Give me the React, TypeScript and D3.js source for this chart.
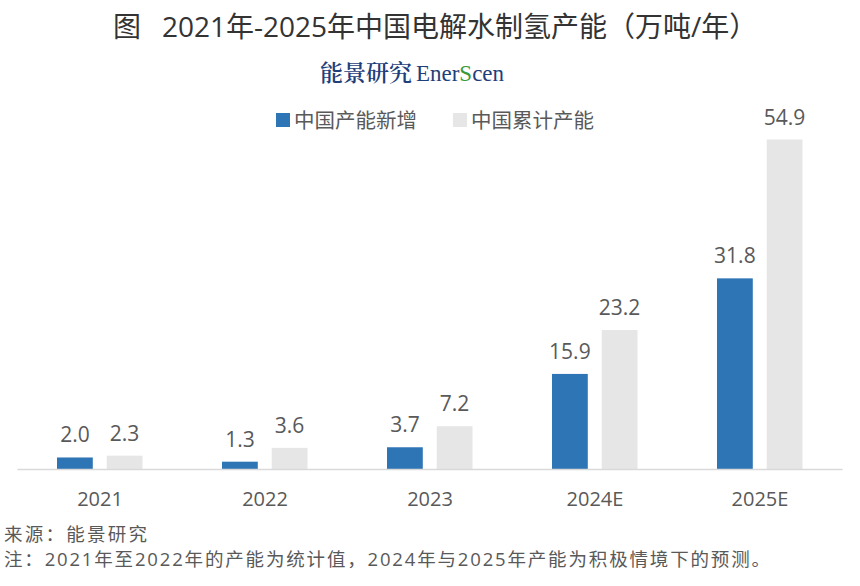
import React from "react";
import * as d3 from "d3";

const categories = ["2021", "2022", "2023", "2024E", "2025E"];
const newCapacity = [2.0, 1.3, 3.7, 15.9, 31.8];
const totalCapacity = [2.3, 3.6, 7.2, 23.2, 54.9];
const seriesNames = ["中国产能新增", "中国累计产能"];
const seriesColors = ["#2E75B6", "#E7E6E6"];

const W = 860;
const H = 586;
const FONT = "'Open Sans', 'Noto Sans CJK SC', sans-serif";
const TEXT = "#595959";

export default function App() {
  const x = d3.scaleBand<string>().domain(categories).range([17.5, 842.5]);
  const inner = d3.scaleBand<number>().domain([0, 1]).range([-43, 42.5]).paddingInner(0.28);
  const y = d3.scaleLinear().domain([0, 54.9]).range([469.5, 139.5]);
  const series = [newCapacity, totalCapacity];

  return (
    <svg width={W} height={H} style={{ position: "absolute", left: 0, top: 0, background: "#fff" }} fontFamily={FONT}>
      <text x={113} y={37} fontSize={28} fill="#333333">图</text>
      <text x={162} y={37} fontSize={28} fill="#333333">
        2021年-2025年中国电解水制氢产能（万吨/年）
      </text>
      <text x={412} y={81} textAnchor="middle" fontSize={23} fill="#1F3F7A">
        <tspan fontFamily="'Noto Serif CJK SC', 'Noto Sans CJK SC', serif" fontWeight={600}>能景研究</tspan>
        <tspan dx={4} fontFamily="'Liberation Serif', serif">Ener</tspan>
        <tspan fill="#3A9A3A" fontFamily="'Liberation Serif', serif">S</tspan>
        <tspan fontFamily="'Liberation Serif', serif">cen</tspan>
      </text>

      {/* legend */}
      {seriesNames.map((name, i) => {
        const lx = i === 0 ? 276 : 453;
        return (
          <g key={name}>
            <rect x={lx} y={113} width={14} height={14} fill={seriesColors[i]} />
            <text x={lx + 18} y={128} fontSize={20.5} fill={TEXT}>{name}</text>
          </g>
        );
      })}

      {/* bars */}
      {categories.map((c, ci) => {
        const cx = x(c)! + x.bandwidth() / 2;
        return (
          <g key={c}>
            {series.map((vals, si) => {
              const bx = cx + inner(si)!;
              const v = vals[ci];
              return (
                <g key={si}>
                  <rect x={bx} y={y(v)} width={inner.bandwidth()} height={y(0) - y(v)} fill={seriesColors[si]} />
                  <text x={bx + inner.bandwidth() / 2} y={y(v) - 15} textAnchor="middle" fontSize={21} fill={TEXT}>
                    {v.toFixed(1)}
                  </text>
                </g>
              );
            })}
            <text x={cx} y={506} textAnchor="middle" fontSize={20} fill={TEXT}>{c}</text>
          </g>
        );
      })}

      <line x1={17.5} x2={842.5} y1={469.5} y2={469.5} stroke="#D9D9D9" strokeWidth={1.5} />

      <text x={4} y={540.5} fontSize={18.5} fill={TEXT} textLength={143} lengthAdjust="spacing">来源：能景研究</text>
      <text x={4} y={566} fontSize={18.5} fill={TEXT} textLength={766} lengthAdjust="spacing">
        注：2021年至2022年的产能为统计值，2024年与2025年产能为积极情境下的预测。
      </text>
    </svg>
  );
}
